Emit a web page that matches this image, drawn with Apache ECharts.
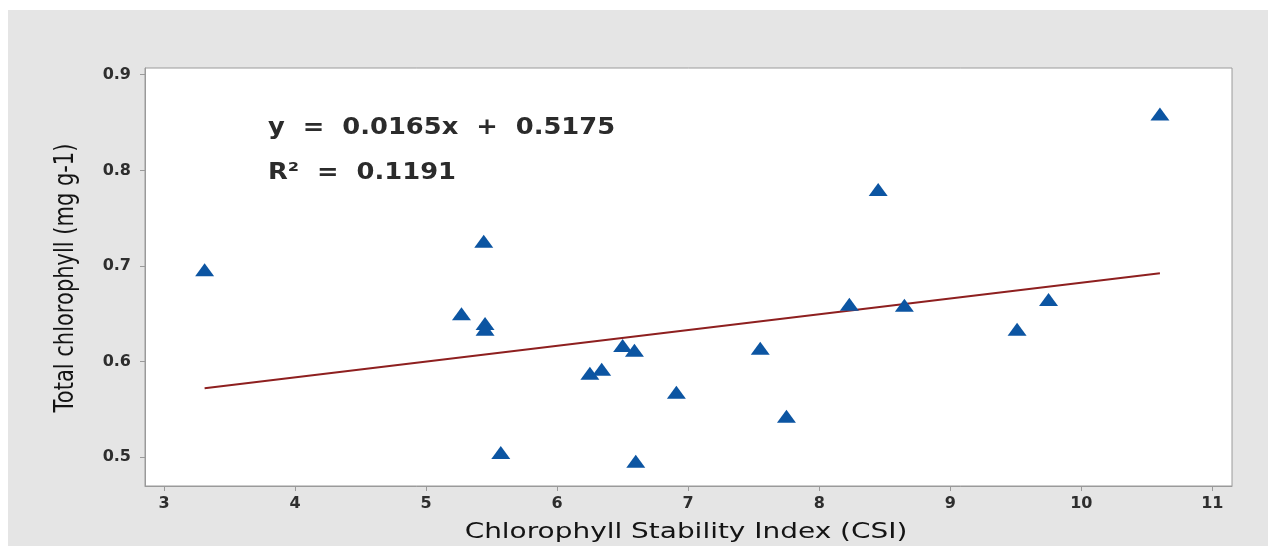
<!DOCTYPE html>
<html>
<head>
<meta charset="utf-8">
<script src="https://cdn.jsdelivr.net/npm/echarts@6/dist/echarts.min.js"></script>
<style>
  html, body { margin: 0; padding: 0; background: #ffffff; }
  #chart { position: absolute; left: 8px; top: 10px; width: 1260px; height: 536px; }
</style>
</head>
<body>
<div id="chart"></div>
<script>
// Chlorophyll Stability Index vs. total chlorophyll content
const csi = [3.31, 5.44, 5.27, 5.45, 5.45, 5.57, 6.25, 6.34, 6.50, 6.59,
             6.60, 6.91, 7.55, 7.75, 8.23, 8.45, 8.65, 9.51, 9.75, 10.60];
const chl = [0.696, 0.726, 0.650, 0.640, 0.634, 0.505, 0.588, 0.592, 0.617, 0.612,
             0.496, 0.568, 0.614, 0.543, 0.660, 0.780, 0.659, 0.634, 0.665, 0.859];

// Linear fit reported for the data
const slope = 0.0165;
const intercept = 0.5175;
const rSquared = 0.1191;

const xTicks = [3, 4, 5, 6, 7, 8, 9, 10, 11];
const yTicks = [0.5, 0.6, 0.7, 0.8, 0.9];

const xTitle = 'Chlorophyll Stability Index (CSI)';
const yTitle = 'Total chlorophyll (mg g-1)';

const points = csi.map((x, i) => [x, chl[i]]);
const xLo = Math.min(...csi), xHi = Math.max(...csi);
const fitLine = [[xLo, slope * xLo + intercept], [xHi, slope * xHi + intercept]];

const chart = echarts.init(document.getElementById('chart'));
const tickFont = { fontFamily: 'DejaVu Sans', fontWeight: 'bold', fontSize: 16, color: '#2e2e2e' };
const axisGray = '#9a9a9a';

// the chart container is offset by (8, 10) inside the page
const OX = 8, OY = 10;

chart.setOption({
  backgroundColor: '#e5e5e5',
  animation: false,
  grid: { left: 137, top: 58, right: 36, bottom: 60, show: true,
          backgroundColor: '#ffffff', borderColor: axisGray, borderWidth: 1 },
  xAxis: {
    type: 'value', min: 2.855, max: 11.15,
    axisLine: { show: true, lineStyle: { color: axisGray } },
    axisTick: { show: true, length: 5, lineStyle: { color: axisGray }, customValues: xTicks },
    axisLabel: Object.assign({ margin: 10, customValues: xTicks }, tickFont),
    splitLine: { show: false }
  },
  yAxis: {
    type: 'value', min: 0.470, max: 0.907,
    axisLine: { show: true, lineStyle: { color: axisGray } },
    axisTick: { show: true, length: 5, lineStyle: { color: axisGray }, customValues: yTicks },
    axisLabel: Object.assign({ margin: 14, customValues: yTicks,
                               formatter: v => v.toFixed(1) }, tickFont),
    splitLine: { show: false }
  },
  series: [
    {
      type: 'line', data: fitLine, symbol: 'none', silent: true,
      lineStyle: { color: '#8e1f1f', width: 2 }, z: 2
    },
    {
      type: 'scatter', data: points, symbol: 'triangle', symbolSize: [19, 13],
      itemStyle: { color: '#0c55a2', opacity: 1 }, z: 3
    }
  ],
  graphic: [
    // axis titles, drawn slightly widened like the tick labels
    { type: 'text', x: 686 - OX, y: 532 - OY, scaleX: 1.27,
      style: { text: xTitle, x: 0, y: 0, align: 'center', verticalAlign: 'middle',
               fontFamily: 'DejaVu Sans', fontSize: 22, fill: '#141414' } },
    { type: 'text', x: 66 - OX, y: 278 - OY, rotation: Math.PI / 2, scaleY: 1.28,
      style: { text: yTitle, x: 0, y: 0, align: 'center', verticalAlign: 'middle',
               fontFamily: 'DejaVu Sans', fontSize: 21, fill: '#141414' } },
    // regression equation and coefficient of determination
    { type: 'text', x: 268 - OX, y: 128 - OY, scaleX: 1.12,
      style: { text: 'y  =  ' + slope.toFixed(4) + 'x  +  ' + intercept.toFixed(4),
               x: 0, y: 0, align: 'left', verticalAlign: 'middle',
               fontFamily: 'DejaVu Sans', fontWeight: 'bold', fontSize: 23, fill: '#2b2b2b' } },
    { type: 'text', x: 268 - OX, y: 173 - OY, scaleX: 1.12,
      style: { text: 'R\u00b2  =  ' + rSquared.toFixed(4),
               x: 0, y: 0, align: 'left', verticalAlign: 'middle',
               fontFamily: 'DejaVu Sans', fontWeight: 'bold', fontSize: 23, fill: '#2b2b2b' } }
  ]
});
</script>
</body>
</html>
